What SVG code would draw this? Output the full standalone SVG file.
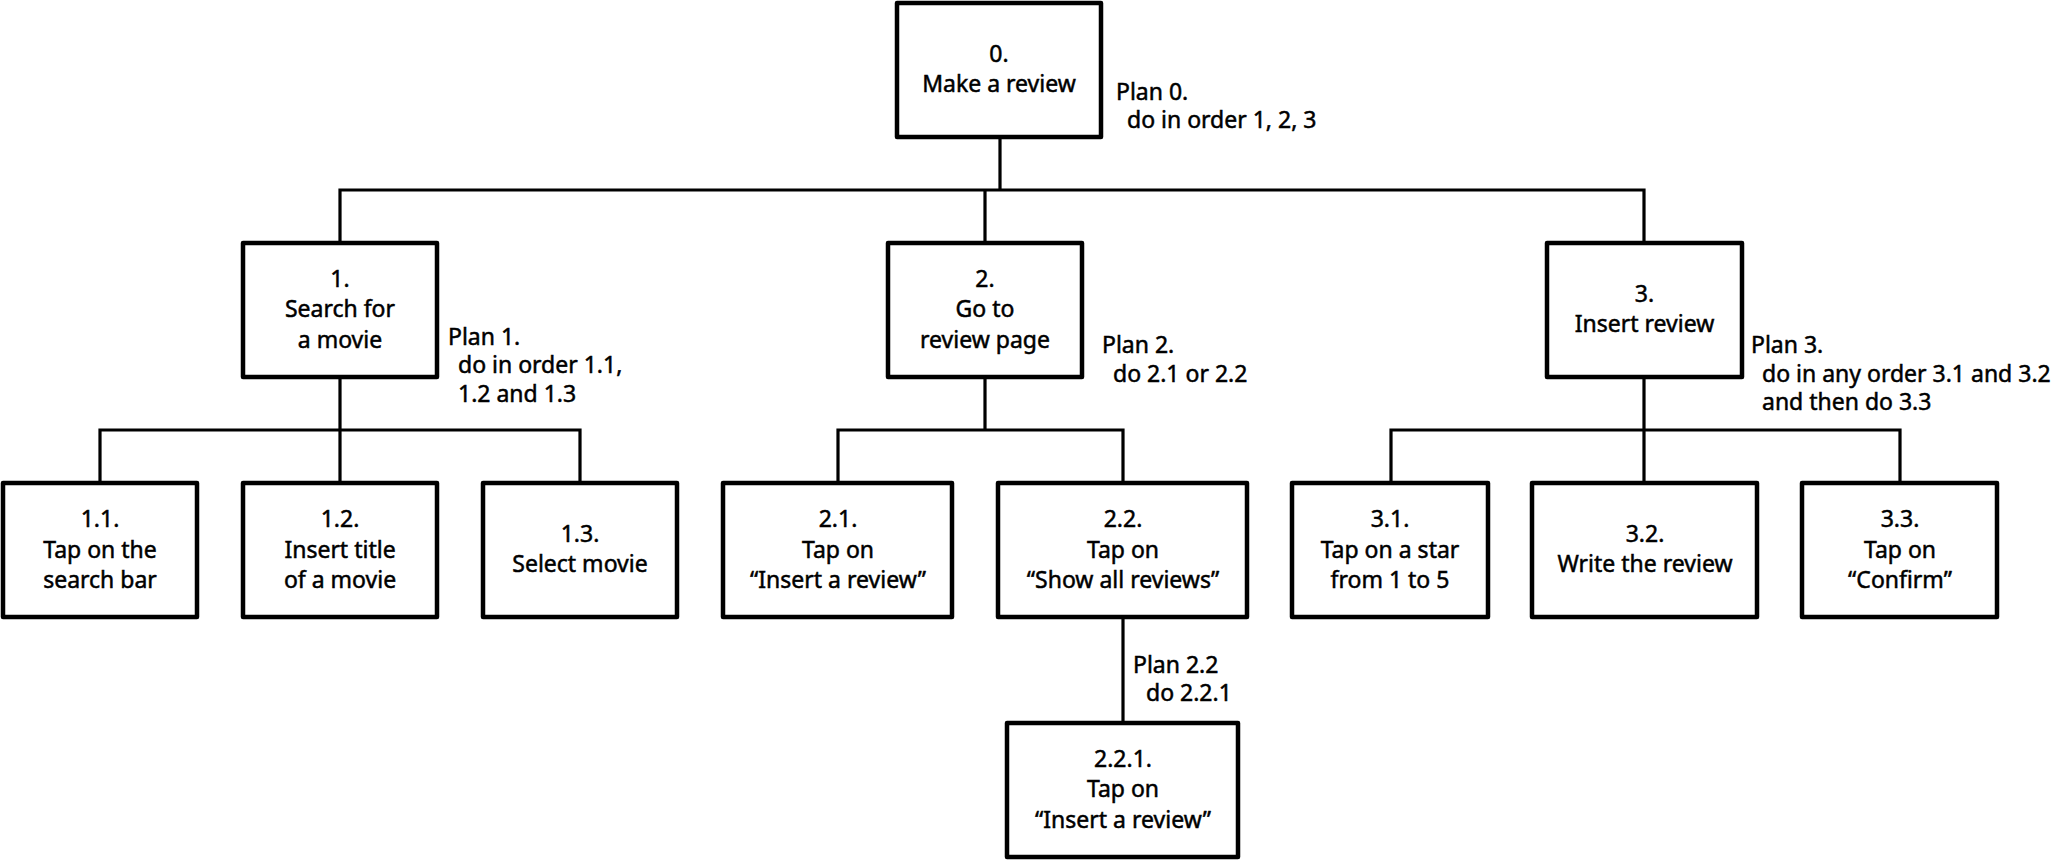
<svg xmlns="http://www.w3.org/2000/svg" width="2058" height="860" viewBox="0 0 2058 860">
<style>
.box{fill:#fff;stroke:#000;stroke-width:4.5;stroke-linejoin:round}
.t{font-family:"Noto Sans","Liberation Sans",sans-serif;font-size:23px;fill:#000;stroke:#000;stroke-width:0.5;text-anchor:middle}
.p{font-family:"Noto Sans","Liberation Sans",sans-serif;font-size:23px;fill:#000;stroke:#000;stroke-width:0.5}
.c{fill:none;stroke:#000;stroke-width:3.2;stroke-linecap:square}
</style>
<rect width="2058" height="860" fill="#fff"/>
<g id="connectors">
<path class="c" d="M1000 137V190M340 190H1644M340 190V243M985 190V243M1644 190V243"/>
<path class="c" d="M340 377V430M100 430H580M100 430V483M340 430V483M580 430V483"/>
<path class="c" d="M985 377V430M838 430H1123M838 430V483M1123 430V483"/>
<path class="c" d="M1644 377V430M1391 430H1900M1391 430V483M1644 430V483M1900 430V483"/>
<path class="c" d="M1123 617V723"/>
</g>
<g id="node-0">
<rect class="box" x="897" y="3" width="204" height="134"/>
<text class="t" x="999" y="62">0.</text>
<text class="t" x="999" y="92">Make a review</text>
</g>
<g id="plan-0">
<text class="p" x="1116" y="100">Plan 0.</text>
<text class="p" x="1127" y="128">do in order 1, 2, 3</text>
</g>
<g id="node-1">
<rect class="box" x="243" y="243" width="194" height="134"/>
<text class="t" x="340" y="287">1.</text>
<text class="t" x="340" y="317">Search for</text>
<text class="t" x="340" y="348">a movie</text>
</g>
<g id="plan-1">
<text class="p" x="448" y="345">Plan 1.</text>
<text class="p" x="458" y="373">do in order 1.1,</text>
<text class="p" x="458" y="402">1.2 and 1.3</text>
</g>
<g id="node-2">
<rect class="box" x="888" y="243" width="194" height="134"/>
<text class="t" x="985" y="287">2.</text>
<text class="t" x="985" y="317">Go to</text>
<text class="t" x="985" y="348">review page</text>
</g>
<g id="plan-2">
<text class="p" x="1102" y="353">Plan 2.</text>
<text class="p" x="1113" y="382">do 2.1 or 2.2</text>
</g>
<g id="node-3">
<rect class="box" x="1547" y="243" width="195" height="134"/>
<text class="t" x="1644.5" y="302">3.</text>
<text class="t" x="1644.5" y="332">Insert review</text>
</g>
<g id="plan-3">
<text class="p" x="1751" y="353">Plan 3.</text>
<text class="p" x="1762" y="382">do in any order 3.1 and 3.2</text>
<text class="p" x="1762" y="410">and then do 3.3</text>
</g>
<g id="node-1-1">
<rect class="box" x="3" y="483" width="194" height="134"/>
<text class="t" x="100" y="527">1.1.</text>
<text class="t" x="100" y="558">Tap on the</text>
<text class="t" x="100" y="588">search bar</text>
</g>
<g id="node-1-2">
<rect class="box" x="243" y="483" width="194" height="134"/>
<text class="t" x="340" y="527">1.2.</text>
<text class="t" x="340" y="558">Insert title</text>
<text class="t" x="340" y="588">of a movie</text>
</g>
<g id="node-1-3">
<rect class="box" x="483" y="483" width="194" height="134"/>
<text class="t" x="580" y="542">1.3.</text>
<text class="t" x="580" y="572">Select movie</text>
</g>
<g id="node-2-1">
<rect class="box" x="723" y="483" width="229" height="134"/>
<text class="t" x="838" y="527">2.1.</text>
<text class="t" x="838" y="558">Tap on</text>
<text class="t" x="838" y="588">“Insert a review”</text>
</g>
<g id="node-2-2">
<rect class="box" x="998" y="483" width="249" height="134"/>
<text class="t" x="1123" y="527">2.2.</text>
<text class="t" x="1123" y="558">Tap on</text>
<text class="t" x="1123" y="588">“Show all reviews”</text>
</g>
<g id="plan-2-2">
<text class="p" x="1133" y="673">Plan 2.2</text>
<text class="p" x="1146" y="701">do 2.2.1</text>
</g>
<g id="node-2-2-1">
<rect class="box" x="1007" y="723" width="231" height="134"/>
<text class="t" x="1123" y="767">2.2.1.</text>
<text class="t" x="1123" y="797">Tap on</text>
<text class="t" x="1123" y="828">“Insert a review”</text>
</g>
<g id="node-3-1">
<rect class="box" x="1292" y="483" width="196" height="134"/>
<text class="t" x="1390" y="527">3.1.</text>
<text class="t" x="1390" y="558">Tap on a star</text>
<text class="t" x="1390" y="588">from 1 to 5</text>
</g>
<g id="node-3-2">
<rect class="box" x="1532" y="483" width="225" height="134"/>
<text class="t" x="1645" y="542">3.2.</text>
<text class="t" x="1645" y="572">Write the review</text>
</g>
<g id="node-3-3">
<rect class="box" x="1802" y="483" width="195" height="134"/>
<text class="t" x="1900" y="527">3.3.</text>
<text class="t" x="1900" y="558">Tap on</text>
<text class="t" x="1900" y="588">“Confirm”</text>
</g>
</svg>
